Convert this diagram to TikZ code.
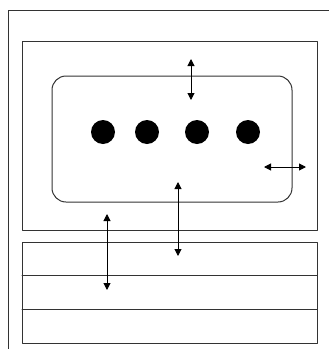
\documentclass[tikz,border=0pt]{standalone}
\usetikzlibrary{arrows.meta,positioning}
\tikzset{every picture/.style={line cap=round, line join=round}}
\tikzset{frame/.style={draw=black!80, line width=1pt}}
\tikzset{chamber/.style={draw=black!80, line width=1pt, rounded corners=14pt}}
\tikzset{dot/.style={circle, fill=black, minimum size=24pt, inner sep=0pt}}
\tikzset{arrow/.style={{Triangle[length=7pt,width=7pt]}-{Triangle[length=7pt,width=7pt]}, line width=1pt}}

\begin{document}
\begin{tikzpicture}[x=1pt,y=-1pt]
  \useasboundingbox (0,0) rectangle (329,349);
  % outer frame
  \draw[frame] (8,349) -- (8,10) -- (329,10);

  % upper box and chamber
  \draw[frame] (22,41) rectangle (317,230);
  \draw[chamber] (52,76) rectangle (292,202);

  % dots
  \foreach \x/\n in {103/a,147/b,197/c,248/d}
    \node[dot] (dot\n) at (\x,132) {};

  % lower layers
  \draw[frame] (22,242) rectangle (317,343);
  \draw[frame] (22,275) -- (317,275);
  \draw[frame] (22,309) -- (317,309);

  % arrows
  \coordinate (t1) at (191,59);  \coordinate (t2) at (191,100);
  \coordinate (h1) at (264,167); \coordinate (h2) at (306,167);
  \coordinate (m1) at (178,182); \coordinate (m2) at (178,256);
  \coordinate (l1) at (107,214); \coordinate (l2) at (107,290);
  \draw[arrow] (t1) -- (t2);
  \draw[arrow] (h1) -- (h2);
  \draw[arrow] (m1) -- (m2);
  \draw[arrow] (l1) -- (l2);
\end{tikzpicture}
\end{document}
